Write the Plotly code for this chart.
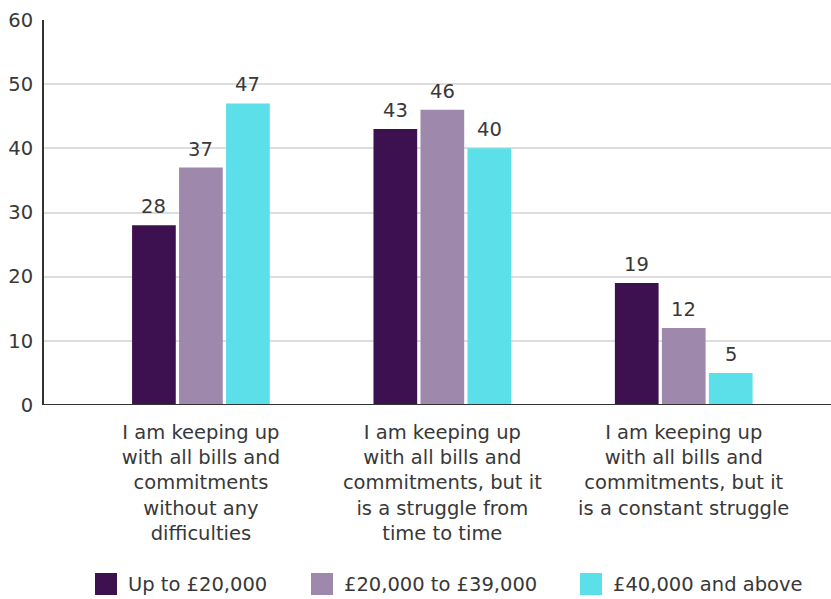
import plotly.graph_objects as go

categories = [
    "I am keeping up<br>with all bills and<br>commitments<br>without any<br>difficulties",
    "I am keeping up<br>with all bills and<br>commitments, but it<br>is a struggle from<br>time to time",
    "I am keeping up<br>with all bills and<br>commitments, but it<br>is a constant struggle",
]
series_names = ["Up to £20,000", "£20,000 to £39,000", "£40,000 and above"]
values_low = [28, 43, 19]
values_mid = [37, 46, 12]
values_high = [47, 40, 5]
colors = ["#3D1150", "#9E88AB", "#5BDFE9"]
y_ticks = [0, 10, 20, 30, 40, 50, 60]

FONT = "DejaVu Sans, sans-serif"
TXT = "#383838"
FS = 19.5

# layout geometry (pixels)
W, H = 831, 599
ML, MR, MT, MB = 44, 0, 20, 194
PW, PH = W - ML - MR, H - MT - MB
BARGAP = 0.416
XR = [-0.65, 2.61]

def px_x(p):
    return (p - ML) / PW

def px_y(p):
    return (H - MB - p) / PH

fig = go.Figure()
all_vals = [values_low, values_mid, values_high]
n = len(series_names)
slot = (1 - BARGAP) / n
for j, (name, vals, col) in enumerate(zip(series_names, all_vals, colors)):
    xs = list(range(len(categories)))
    fig.add_trace(go.Bar(
        x=xs, y=vals, name=name,
        marker=dict(color=col, line=dict(width=0)),
        showlegend=False,
    ))
    off = (j - (n - 1) / 2) * slot
    for i, v in enumerate(vals):
        fig.add_annotation(x=xs[i] + off, y=v, text=str(v), showarrow=False,
                           xref="x", yref="y", yanchor="bottom", yshift=5,
                           font=dict(size=FS, color=TXT, family=FONT))

# manual legend with large square swatches
leg_sq_x = [95, 311, 580]
leg_y = 584
sq = 22
for name, col, lx in zip(series_names, colors, leg_sq_x):
    fig.add_shape(type="rect", xref="paper", yref="paper",
                  x0=px_x(lx), x1=px_x(lx + sq), y0=px_y(leg_y + sq / 2), y1=px_y(leg_y - sq / 2),
                  fillcolor=col, line=dict(width=0))
    fig.add_annotation(xref="paper", yref="paper", x=px_x(lx + sq + 9), y=px_y(leg_y),
                       xanchor="left", yanchor="middle", text=name, showarrow=False,
                       font=dict(size=FS, color=TXT, family=FONT))

fig.update_layout(
    width=W, height=H,
    margin=dict(l=ML, r=MR, t=MT, b=MB),
    barmode="group", bargap=BARGAP, bargroupgap=0.07,
    plot_bgcolor="white", paper_bgcolor="white",
    font=dict(family=FONT, size=FS, color=TXT),
    showlegend=False,
    xaxis=dict(
        tickmode="array", tickvals=list(range(len(categories))), ticktext=categories,
        range=XR, showgrid=False, zeroline=False,
        showline=False, ticks="", ticklabelstandoff=13,
        tickfont=dict(size=FS, color=TXT, family=FONT),
    ),
    yaxis=dict(
        range=[0, 60], tickvals=y_ticks, showgrid=True, gridcolor="#DDDDDD", gridwidth=1.5,
        zeroline=False, showline=True, linecolor="#333333", linewidth=2,
        ticks="", ticklabelstandoff=5, tickfont=dict(size=FS, color=TXT, family=FONT),
    ),
)
fig.add_shape(type="line", xref="paper", yref="y", x0=0, x1=1, y0=0, y1=0,
              line=dict(color="#333333", width=2))

fig.write_html("out.html")
